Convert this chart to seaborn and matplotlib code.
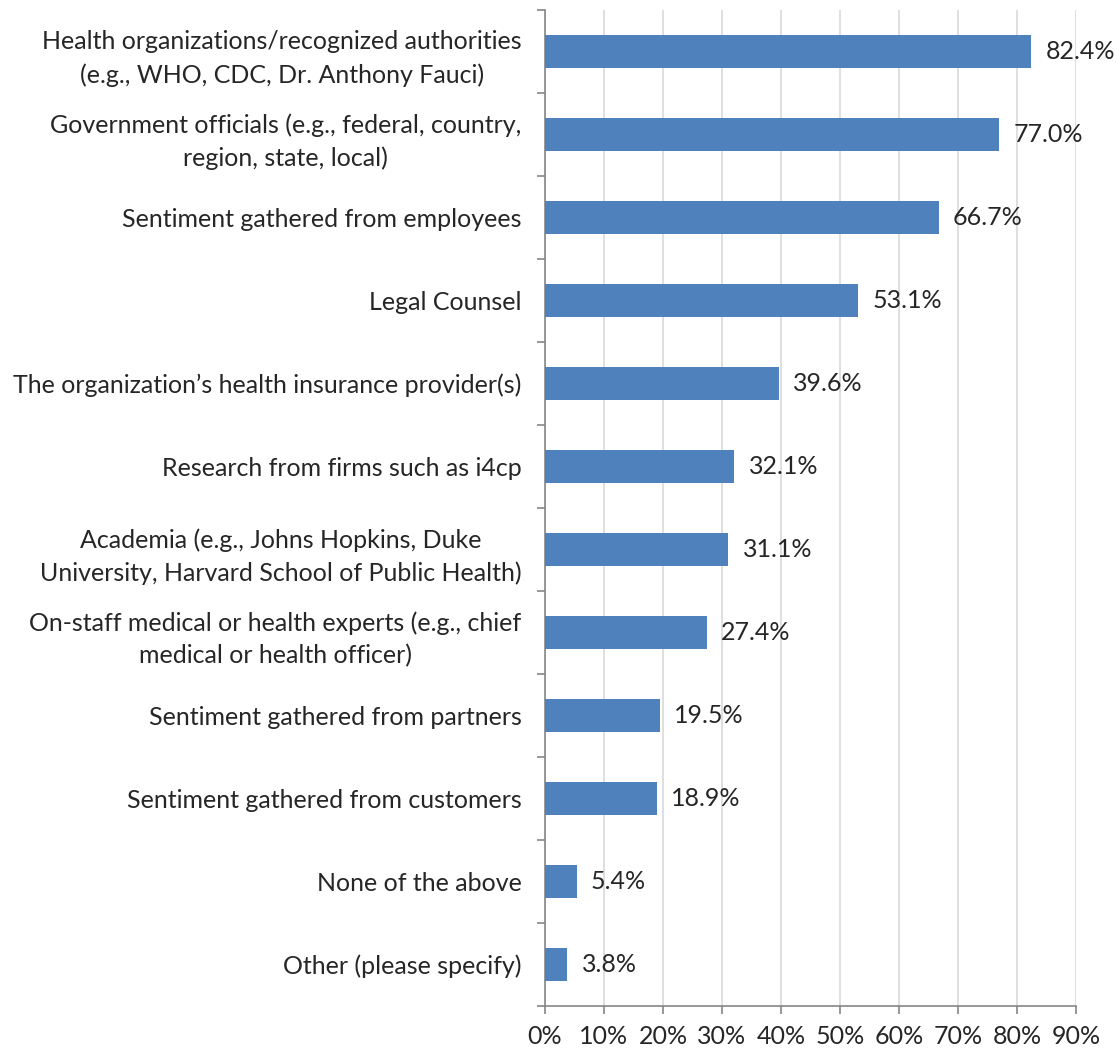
import numpy as np
import matplotlib
matplotlib.use("Agg")
import matplotlib.pyplot as plt
import pandas as pd
import seaborn as sns
from matplotlib.ticker import FixedLocator, PercentFormatter

# data
categories = [
    "Health organizations/recognized authorities\n(e.g., WHO, CDC, Dr. Anthony Fauci)",
    "Government officials (e.g., federal, country,\nregion, state, local)",
    "Sentiment gathered from employees",
    "Legal Counsel",
    "The organization\u2019s health insurance provider(s)",
    "Research from firms such as i4cp",
    "Academia (e.g., Johns Hopkins, Duke\nUniversity, Harvard School of Public Health)",
    "On-staff medical or health experts (e.g., chief\nmedical or health officer)",
    "Sentiment gathered from partners",
    "Sentiment gathered from customers",
    "None of the above",
    "Other (please specify)",
]
values = [82.4, 77.0, 66.7, 53.1, 39.6, 32.1, 31.1, 27.4, 19.5, 18.9, 5.4, 3.8]

df = pd.DataFrame({"source": categories, "pct": values})

sns.set_style("white")
plt.rcParams['font.family'] = ['Lato', 'DejaVu Sans']
fs = 18

fig = plt.figure(figsize=(11.17, 10.52), dpi=100)
ax = fig.add_axes([545/1117, 46/1052, 531/1117, 996/1052])

sns.barplot(data=df, x="pct", y="source", orient="h", color="#4F81BD",
            saturation=1, width=0.4, linewidth=0, ax=ax, zorder=3)

ax.set_xlim(0, 90)
ax.set_ylim(len(categories) - 0.5, -0.5)
ax.set_xticks(np.arange(0, 91, 10))
ax.xaxis.set_major_formatter(PercentFormatter(decimals=0))
ax.grid(axis="x", color="#D9D9D9", linewidth=1.2, zorder=0)
ax.set_xlabel("")
ax.set_ylabel("")

for s in ["top", "right"]:
    ax.spines[s].set_visible(False)
for s in ["left", "bottom"]:
    ax.spines[s].set_color("#868686")
    ax.spines[s].set_linewidth(1.2)

# category ticks sit between the bars
ax.yaxis.set_minor_locator(FixedLocator(np.arange(-0.5, len(categories), 1)))
ax.tick_params(axis="y", which="major", left=False, length=0, pad=17, labelsize=fs)
ax.tick_params(axis="y", which="minor", left=True, length=6, width=1.2, color="#868686")
ax.tick_params(axis="x", which="major", bottom=True, length=6, width=1.2, color="#868686",
               labelsize=fs, pad=8)
for lbl in ax.get_yticklabels():
    lbl.set_multialignment("center")
    lbl.set_linespacing(1.5)

for i, v in enumerate(values):
    ax.text(v + 2.4, i, f"{v:.1f}%", va="center", ha="left", fontsize=fs)

fig.savefig("out.png", dpi=100)
